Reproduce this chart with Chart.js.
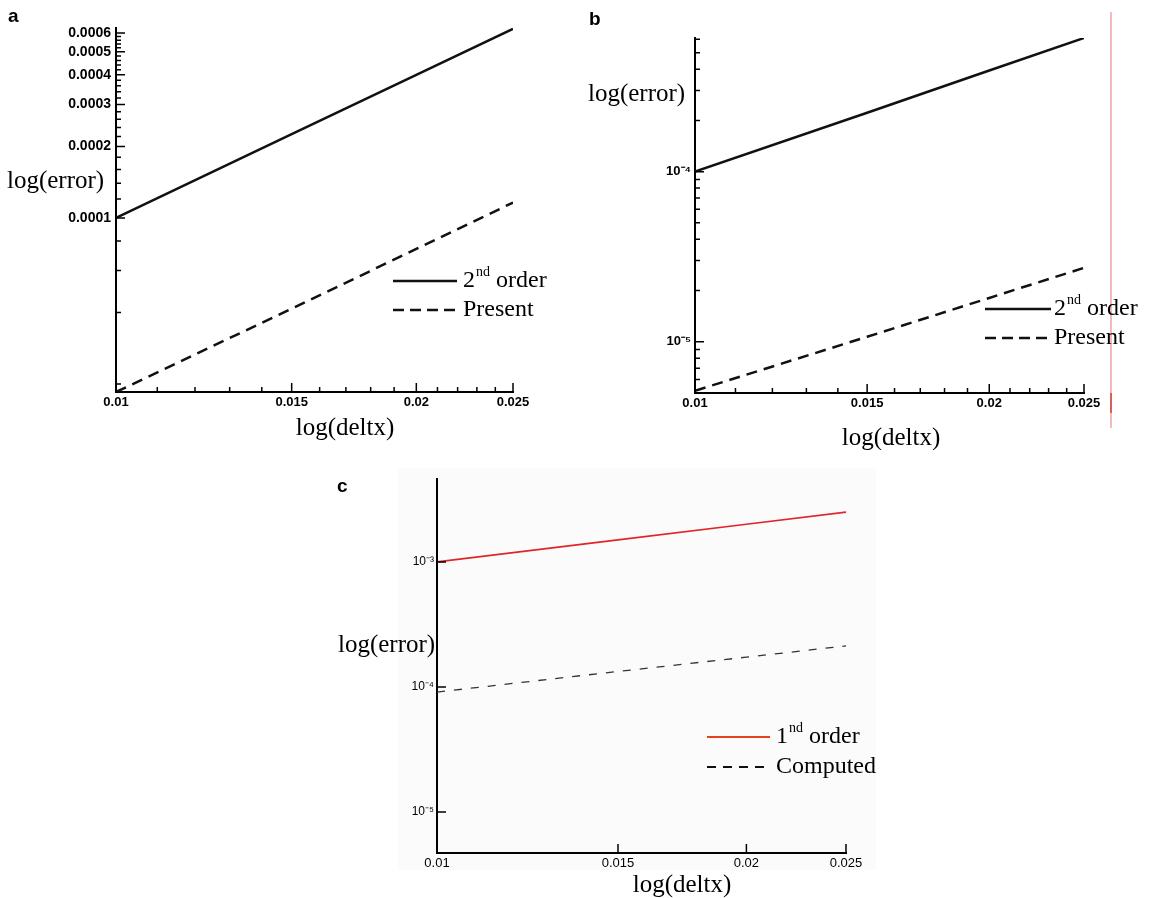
<!DOCTYPE html>
<html>
<head>
<meta charset="utf-8">
<script src="https://cdn.jsdelivr.net/npm/chart.js@4.4.1/dist/chart.umd.min.js"></script>
<style>
  body { margin: 0; background: #fff; width: 1153px; height: 898px; position: relative; overflow: hidden; }
  canvas { position: absolute; }
  #shadeC { position: absolute; left: 398px; top: 468px; width: 478px; height: 402px; background: #fbfbfb; }
  #edge { position: absolute; left: 1110px; top: 12px; width: 2px; height: 416px; background: #f3bcbc; }
  #edgeDark { position: absolute; left: 1110px; top: 393px; width: 2px; height: 20px; background: #d8605c; }
</style>
</head>
<body>
<div id="shadeC"></div>
<div id="edge"></div>
<div id="edgeDark"></div>
<canvas id="chartA" width="576" height="450" style="left:0;top:0"></canvas>
<canvas id="chartB" width="577" height="450" style="left:576px;top:0"></canvas>
<canvas id="chartC" width="600" height="448" style="left:300px;top:450px"></canvas>
<script>
// grid spacing on the x axis
let deltx = [0.01, 0.015, 0.02, 0.025];

// panel a
let aSecondOrder = [1.0e-4, 2.25e-4, 4.0e-4, 6.25e-4];
let aPresent = [1.85e-5, 4.15e-5, 7.4e-5, 1.16e-4];
// panel b
let bSecondOrder = [1.0e-4, 2.22e-4, 3.93e-4, 6.1e-4];
let bPresent = [5.15e-6, 1.07e-5, 1.81e-5, 2.72e-5];
// panel c
let cFirstOrder = [1.0e-3, 1.5e-3, 2.0e-3, 2.5e-3];
let cComputed = [9.1e-5, 1.33e-4, 1.73e-4, 2.13e-4];

// tick values and labels
let xTickValues = [0.01, 0.015, 0.02, 0.025];
let xTickLabels = ['0.01', '0.015', '0.02', '0.025'];
let xMinorTicks = [0.011, 0.012, 0.013, 0.014, 0.016, 0.017, 0.018, 0.019, 0.021, 0.022, 0.023, 0.024];
let aYTickValues = [1e-4, 2e-4, 3e-4, 4e-4, 5e-4, 6e-4];
let aYTickLabels = ['0.0001', '0.0002', '0.0003', '0.0004', '0.0005', '0.0006'];
let bYTickValues = [1e-5, 1e-4];
let bYTickLabels = ['10\u207B\u2075', '10\u207B\u2074'];
let bYMinorTicks = [6e-6, 7e-6, 8e-6, 9e-6, 2e-5, 3e-5, 4e-5, 5e-5, 6e-5, 7e-5, 8e-5, 9e-5, 2e-4, 3e-4, 4e-4, 5e-4, 6e-4];
let cYTickValues = [1e-5, 1e-4, 1e-3];
let cYTickLabels = ['10\u207B\u2075', '10\u207B\u2074', '10\u207B\u00B3'];

// panel a has a small tick every 2e-5
let aYMinorTicks = [];
for (let k = 1; k <= 30; k++) {
    if (k % 5 != 0) aYMinorTicks.push(k * 2e-5);
}

const serif = '"Liberation Serif", "Times New Roman", serif';
const sans = '"Liberation Sans", Arial, Helvetica, sans-serif';

// inward tick marks, like the original plotting program draws them
const tickMarks = {
    id: 'tickMarks',
    afterDraw(chart, args, o) {
        const ctx = chart.ctx, area = chart.chartArea;
        const sx = chart.scales.x, sy = chart.scales.y;
        ctx.save();
        ctx.strokeStyle = '#000';
        ctx.lineWidth = 1.5;
        ctx.beginPath();
        const xMark = (vals, len) => vals.forEach(v => {
            const px = sx.getPixelForValue(v);
            ctx.moveTo(px, area.bottom);
            ctx.lineTo(px, area.bottom - len);
        });
        const yMark = (vals, len) => vals.forEach(v => {
            const py = sy.getPixelForValue(v);
            ctx.moveTo(area.left, py);
            ctx.lineTo(area.left + len, py);
        });
        xMark(o.xMajor, o.majorLen);
        xMark(o.xMinor || [], o.minorLen);
        yMark(o.yMajor, o.majorLen);
        yMark(o.yMinor || [], o.minorLen);
        ctx.stroke();
        ctx.restore();
    }
};

// legend with superscript suffix (2nd, 1nd ...)
function drawLabel(ctx, text, x, y) {
    const m = text.match(/^(\d+)([a-z]{2})(.*)$/);
    ctx.font = '24px ' + serif;
    if (!m) {
        ctx.fillText(text, x, y);
        return;
    }
    ctx.fillText(m[1], x, y);
    x += ctx.measureText(m[1]).width;
    ctx.font = '14px ' + serif;
    ctx.fillText(m[2], x + 1, y - 9);
    x += ctx.measureText(m[2]).width + 1;
    ctx.font = '24px ' + serif;
    ctx.fillText(m[3], x, y);
}

const keyBox = {
    id: 'keyBox',
    afterDraw(chart, args, o) {
        const ctx = chart.ctx;
        ctx.save();
        chart.data.datasets.forEach((ds, i) => {
            const y = o.y + i * o.rowGap;
            ctx.strokeStyle = o.colors[i];
            ctx.lineWidth = o.widths[i];
            ctx.setLineDash(o.dashes[i]);
            ctx.beginPath();
            ctx.moveTo(o.x, y);
            ctx.lineTo(o.x + o.lineLength, y);
            ctx.stroke();
            ctx.setLineDash([]);
            ctx.fillStyle = '#000';
            ctx.textBaseline = 'middle';
            ctx.textAlign = 'left';
            drawLabel(ctx, ds.label, o.x + o.lineLength + o.textGap, y);
        });
        ctx.restore();
    }
};

const panelText = {
    id: 'panelText',
    afterDraw(chart, args, o) {
        const ctx = chart.ctx;
        ctx.save();
        ctx.fillStyle = '#000';
        ctx.textBaseline = 'middle';
        ctx.textAlign = 'left';
        ctx.font = 'bold 19px ' + sans;
        ctx.fillText(o.letter, o.letterX, o.letterY);
        ctx.font = '25px ' + serif;
        ctx.fillText('log(error)', o.yTitleX, o.yTitleY);
        ctx.textAlign = 'center';
        ctx.fillText('log(deltx)', o.xTitleX, o.xTitleY);
        ctx.restore();
    }
};

function panel(id, p) {
    return new Chart(document.getElementById(id).getContext('2d'), {
        type: 'line',
        data: {
            datasets: p.series.map(s => ({
                label: s.label,
                data: deltx.map((x, i) => ({ x: x, y: s.values[i] })),
                borderColor: s.color,
                borderWidth: s.width,
                borderDash: s.dash,
                pointRadius: 0,
                tension: 0,
                fill: false
            }))
        },
        options: {
            responsive: false,
            animation: false,
            events: [],
            layout: { padding: p.padding },
            plugins: {
                legend: { display: false },
                tooltip: { enabled: false },
                tickMarks: p.ticks,
                keyBox: {
                    x: p.key.x, y: p.key.y, rowGap: p.key.rowGap, lineLength: p.key.lineLength, textGap: p.key.textGap,
                    colors: p.series.map(s => s.keyColor || s.color),
                    widths: p.series.map(s => s.keyWidth || s.width),
                    dashes: p.series.map(s => s.keyDash || s.dash)
                },
                panelText: p.text
            },
            scales: {
                x: {
                    type: 'logarithmic',
                    min: 0.01,
                    max: 0.025,
                    afterBuildTicks: s => { s.ticks = xTickValues.map(v => ({ value: v })); },
                    afterFit: s => { s.height = p.xHeight; },
                    grid: { display: false, drawTicks: false },
                    border: { color: '#000', width: 2 },
                    ticks: {
                        autoSkip: false, maxRotation: 0, padding: 3, color: '#000',
                        font: { family: sans, size: 13, weight: p.tickWeight },
                        callback: (v, i) => xTickLabels[i]
                    }
                },
                y: {
                    type: 'logarithmic',
                    min: p.yMin,
                    max: p.yMax,
                    afterBuildTicks: s => { s.ticks = p.yTicks.map(v => ({ value: v })); },
                    afterFit: s => { s.width = p.yWidth; },
                    grid: { display: false, drawTicks: false },
                    border: { color: '#000', width: 2 },
                    ticks: {
                        autoSkip: false, padding: p.yPad, color: '#000',
                        font: { family: sans, size: p.yFontSize, weight: p.tickWeight },
                        callback: (v, i) => p.yLabels[i]
                    }
                }
            }
        },
        plugins: [tickMarks, keyBox, panelText]
    });
}

panel('chartA', {
    series: [
        { label: '2nd order', values: aSecondOrder, color: '#111', width: 2.5, dash: [] },
        { label: 'Present', values: aPresent, color: '#111', width: 2.5, dash: [11, 7], keyDash: [11, 6] }
    ],
    padding: { top: 28, right: 63, left: 0, bottom: 0 },
    yWidth: 116, xHeight: 58,
    yMin: 1.85e-5, yMax: 6.3e-4,
    yTicks: aYTickValues, yLabels: aYTickLabels, yFontSize: 14, yPad: 5,
    tickWeight: 'bold',
    ticks: { xMajor: xTickValues, xMinor: xMinorTicks, yMajor: aYTickValues, yMinor: aYMinorTicks, majorLen: 9, minorLen: 5 },
    key: { x: 393, y: 281, rowGap: 29, lineLength: 64, textGap: 6 },
    text: { letter: 'a', letterX: 8, letterY: 17, yTitleX: 7, yTitleY: 181, xTitleX: 345, xTitleY: 428 }
});

panel('chartB', {
    series: [
        { label: '2nd order', values: bSecondOrder, color: '#111', width: 2.5, dash: [] },
        { label: 'Present', values: bPresent, color: '#111', width: 2.5, dash: [11, 7], keyDash: [11, 6] }
    ],
    padding: { top: 38, right: 69, left: 0, bottom: 0 },
    yWidth: 119, xHeight: 57,
    yMin: 5.0e-6, yMax: 6.1e-4,
    yTicks: bYTickValues, yLabels: bYTickLabels, yFontSize: 13, yPad: 4,
    tickWeight: 'bold',
    ticks: { xMajor: xTickValues, xMinor: xMinorTicks, yMajor: bYTickValues, yMinor: bYMinorTicks, majorLen: 9, minorLen: 5 },
    key: { x: 409, y: 309, rowGap: 29, lineLength: 66, textGap: 3 },
    text: { letter: 'b', letterX: 13, letterY: 20, yTitleX: 12, yTitleY: 94, xTitleX: 315, xTitleY: 438 }
});

panel('chartC', {
    series: [
        { label: '1nd order', values: cFirstOrder, color: '#e0252a', width: 1.6, dash: [], keyColor: '#e8401f', keyWidth: 2.2 },
        { label: 'Computed', values: cComputed, color: '#333', width: 1.3, dash: [8, 9], keyColor: '#111', keyWidth: 2, keyDash: [9, 7] }
    ],
    padding: { top: 29, right: 54, left: 0, bottom: 0 },
    yWidth: 137, xHeight: 45,
    yMin: 4.7e-6, yMax: 4.6e-3,
    yTicks: cYTickValues, yLabels: cYTickLabels, yFontSize: 12, yPad: 3,
    tickWeight: 'normal',
    ticks: { xMajor: xTickValues, yMajor: cYTickValues, majorLen: 9, minorLen: 5 },
    key: { x: 407, y: 287, rowGap: 30, lineLength: 63, textGap: 6 },
    text: { letter: 'c', letterX: 37, letterY: 37, yTitleX: 38, yTitleY: 195, xTitleX: 382, xTitleY: 435 }
});
</script>
</body>
</html>
